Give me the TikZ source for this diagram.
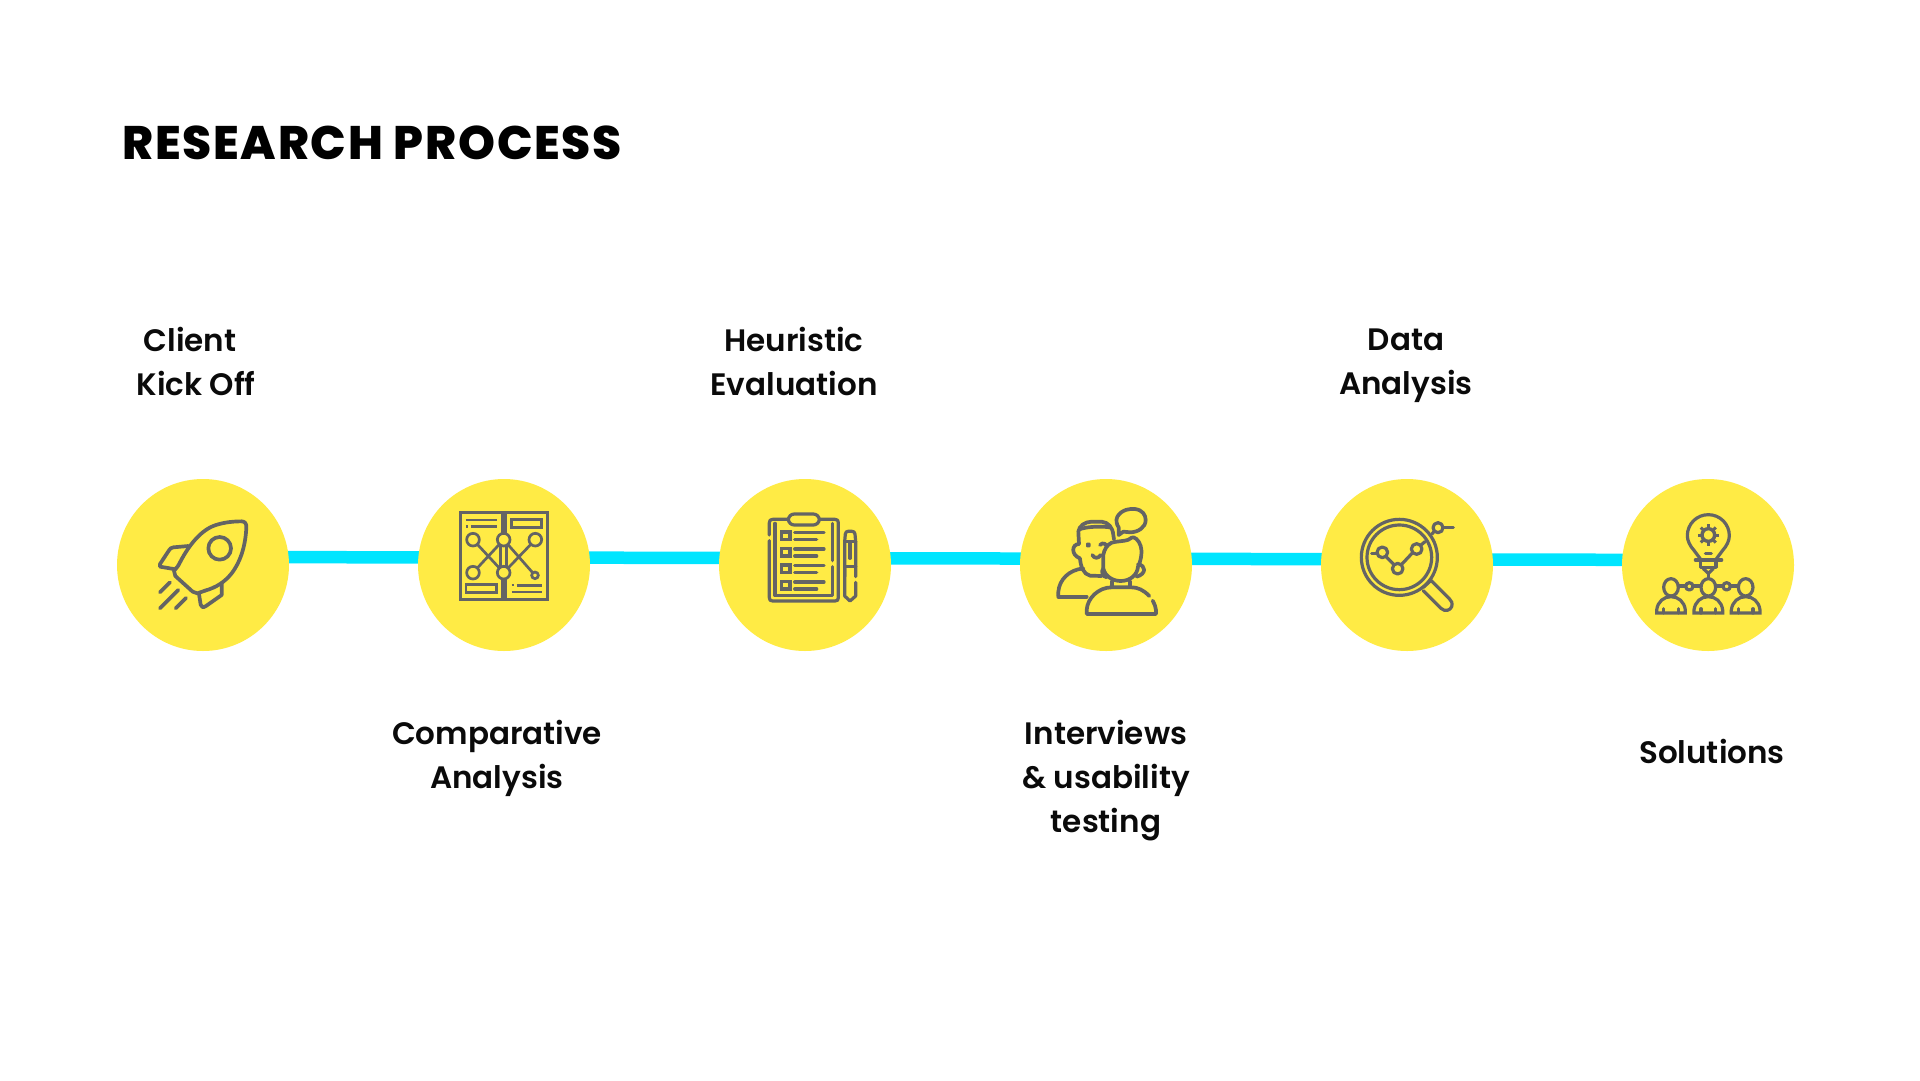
\documentclass[tikz,border=0pt]{standalone}
\usepackage{fontspec}
\usetikzlibrary{backgrounds}
\setmainfont{Poppins}[UprightFont=* SemiBold,BoldFont=* SemiBold,Ligatures=NoCommon]
\newfontfamily\titlefont{Poppins}[UprightFont=* ExtraBold,LetterSpace=3.7]
\newcommand\lstrut{\rule[-11pt]{0pt}{33pt}}
\definecolor{sun}{HTML}{FFEB45}
\definecolor{wire}{HTML}{00E5FF}
\definecolor{ink}{HTML}{646464}
\definecolor{txt}{HTML}{0A0A0A}
\tikzset{
 stepdisc/.style={circle,fill=sun,minimum size=172pt,inner sep=0pt},
 link/.style={wire,line width=12.5pt},
 lab/.style={font=\fontsize{31}{44}\selectfont,text=txt,align=center,inner sep=0pt},
 icon/.style={draw=ink,line width=3.7pt,line cap=round,line join=round},
 iconf/.style={icon,fill=sun},
 zoomA/.style={shift={(110,470)},x=0.33333pt,y=-0.33333pt},
 zoomB/.style={shift={(710,470)},x=0.33333pt,y=-0.33333pt},
 zoomC/.style={shift={(1310,470)},x=0.33333pt,y=-0.33333pt},
}
\begin{document}
\begin{tikzpicture}[x=1pt,y=-1pt]
\useasboundingbox (0,0) rectangle (1920,1080);
\node[anchor=base west,inner sep=0pt,text=black,font=\titlefont\fontsize{47}{56}\selectfont] (title) at (122,159.5) {RESEARCH PROCESS};

\node[stepdisc] (c1) at (203,565) {};
\node[stepdisc] (c2) at (504,565) {};
\node[stepdisc] (c3) at (805,565) {};
\node[stepdisc] (c4) at (1106,565) {};
\node[stepdisc] (c5) at (1407,565) {};
\node[stepdisc] (c6) at (1708,565) {};
\begin{pgfonlayer}{background}
\draw[link] ([yshift=8pt]c1.center) -- ([yshift=7.5pt]c2.center);
\draw[link] ([yshift=7.5pt]c2.center) -- ([yshift=6.9pt]c3.center);
\draw[link] ([yshift=6.9pt]c3.center) -- ([yshift=6.3pt]c4.center);
\draw[link] ([yshift=6.3pt]c4.center) -- ([yshift=5.7pt]c5.center);
\draw[link] ([yshift=5.7pt]c5.center) -- ([yshift=5pt]c6.center);
\end{pgfonlayer}

\node[lab] (l1) at (196,366.5) {\lstrut Client\hspace*{12pt}\\\lstrut Kick Off};
\node[lab] (l2) at (497,759.5) {\lstrut Comparative\\\lstrut Analysis};
\node[lab] (l3) at (794,366.5) {\lstrut Heuristic\\\lstrut Evaluation};
\node[lab] (l4) at (1106,781.5) {\lstrut Interviews\\\lstrut \& usability\\\lstrut testing};
\node[lab] (l5) at (1406,366.5) {\lstrut Data\\\lstrut Analysis};
\node[lab] (l6) at (1712,756.5) {\lstrut Solutions};

% rocket
\begin{scope}[zoomA]
\draw[icon] (205,287) .. controls (235,225) and (275,178) .. (318,165) .. controls (345,156) and (375,154) .. (395,154) .. controls (405,154) and (410,162) .. (409,172) .. controls (407,220) and (395,270) .. (365,310) .. controls (345,335) and (320,352) .. (285,362);
\draw[icon] (205,287) -- (192,302) -- (196,318) -- (248,365) -- (262,370) -- (285,362);
\draw[icon] (235,228) -- (190,232) .. controls (183,233) and (180,236) .. (177,241) -- (150,282) -- (150,290) -- (197,298);
\draw[icon] (335,340) -- (335,375) -- (288,408) .. controls (280,414) and (273,412) .. (272,404) -- (267,372);
\draw[icon] (329,235) circle (34);
\draw[icon] (150,367) -- (180,337);
\draw[icon] (150,415) -- (205,360);
\draw[icon] (197,415) -- (228,384);
\end{scope}

% map
\begin{scope}[zoomA,icon/.append style={line width=2.7pt,line cap=butt,line join=miter}]
\draw[icon] (1178,200) -- (1178,128) -- (1052,128) -- (1052,388) -- (1178,388) -- (1178,320);
\draw[icon] (1186,200) -- (1186,128) -- (1312,128) -- (1312,388) -- (1186,388) -- (1186,320);
\draw[icon] (1068,150) -- (1160,150);
\draw[icon] (1068,170) -- (1075,170) (1082,170) -- (1160,170);
\draw[icon] (1205,148) rectangle (1295,172);
\draw[icon] (1068,344) rectangle (1160,368);
\draw[icon] (1205,345) -- (1213,345) (1220,347) -- (1297,347);
\draw[icon] (1205,366) -- (1297,366);
\draw[icon] (1172,225) -- (1172,295) (1190,225) -- (1190,295);
\draw[icon] (1089,209) -- (1181,308) (1089,308) -- (1181,209);
\draw[icon] (1181,209) -- (1275,316) (1181,308) -- (1276,209);
\draw[iconf] (1089,209) circle (19);
\draw[iconf] (1181,209) circle (19);
\draw[iconf] (1276,209) circle (19);
\draw[iconf] (1089,308) circle (19);
\draw[iconf] (1181,308) circle (19);
\draw[iconf] (1275,316) circle (10);
\end{scope}

% clipboard
\begin{scope}[zoomB,icon/.append style={line width=3.2pt}]
\draw[icon] (178,195) -- (178,158) .. controls (178,151) and (181,148) .. (188,148) -- (235,148);
\draw[icon] (328,148) -- (375,148) .. controls (382,148) and (385,151) .. (385,158) -- (385,383) .. controls (385,390) and (382,393) .. (375,393) -- (188,393) .. controls (181,393) and (178,390) .. (178,383) -- (178,212);
\draw[icon] (195,160) -- (195,377) -- (367,377) -- (367,290);
\draw[icon] (367,272) -- (367,160);
\draw[icon,rounded corners=6pt] (235,132) rectangle (328,165);
\foreach \yy in {197,247,296,346} {
  \draw[icon,line join=miter] (215,\yy-11) rectangle (240,\yy+11);
  \draw[icon] (254,\yy-10) -- (342,\yy-10);
  \draw[icon] (254,\yy+11) -- (320,\yy+11);
}
\draw[icon] (404,320) -- (404,215) -- (406,192) .. controls (407,186) and (410,184) .. (414,184) -- (426,184) .. controls (431,184) and (434,186) .. (435,192) -- (437,215) -- (437,320);
\draw[icon] (404,215) -- (437,215);
\draw[icon] (420,220) -- (420,265);
\draw[icon] (404,290) -- (437,290);
\draw[icon] (404,290) -- (404,378) -- (420,393) -- (437,378) -- (437,337);
\end{scope}

% people
\begin{scope}[zoomB]
\draw[icon] (1222,140) .. controls (1235,118) and (1262,115) .. (1275,117) .. controls (1298,120) and (1307,135) .. (1307,150) .. controls (1307,172) and (1285,186) .. (1262,187) -- (1240,185) -- (1226,195) -- (1226,172) .. controls (1220,165) and (1217,150) .. (1222,140);
\draw[icon] (1045,378) -- (1045,365) .. controls (1048,330) and (1075,300) .. (1120,295);
\draw[icon] (1045,380) -- (1130,380);
\draw[icon] (1107,222) -- (1105,185) .. controls (1107,168) and (1125,155) .. (1145,155) -- (1175,155) .. controls (1195,157) and (1208,172) .. (1210,195) -- (1212,208);
\draw[icon] (1108,178) .. controls (1130,170) and (1170,168) .. (1200,172);
\draw[icon] (1107,222) .. controls (1085,222) and (1082,255) .. (1110,265);
\draw[icon] (1110,265) .. controls (1112,290) and (1120,312) .. (1140,317) -- (1175,318);
\draw[icon] (1147,255) .. controls (1152,266) and (1166,266) .. (1172,255);
\draw[icon,fill=ink] (1135,225) circle (3);
\draw[icon] (1170,225) .. controls (1178,215) and (1192,222) .. (1192,235);
\draw[iconf] (1180,255) -- (1180,295) .. controls (1185,320) and (1210,333) .. (1232,333) .. controls (1260,333) and (1282,315) .. (1284,290) .. controls (1296,265) and (1296,240) .. (1292,228) .. controls (1287,210) and (1272,198) .. (1265,203) .. controls (1255,215) and (1225,212) .. (1205,218) .. controls (1190,225) and (1182,240) .. (1180,255);
\draw[icon] (1180,295) .. controls (1172,305) and (1178,320) .. (1190,322);
\draw[icon] (1284,283) .. controls (1308,285) and (1310,312) .. (1280,320);
\draw[icon] (1205,335) -- (1205,352) (1260,335) -- (1260,352);
\draw[iconf] (1318,378) .. controls (1300,360) and (1285,352) .. (1262,352) -- (1205,352) .. controls (1165,352) and (1132,385) .. (1130,420) -- (1130,432) -- (1338,432) -- (1338,420) .. controls (1337,410) and (1333,400) .. (1328,392);
\end{scope}

% magnifier
\begin{scope}[zoomC,icon/.append style={line width=3.2pt}]
\draw[icon] (268,262) circle (114);
\draw[icon] (268,262) circle (97);
\draw[icon] (340,362) -- (393,415) .. controls (405,426) and (420,422) .. (425,410) .. controls (428,400) and (425,392) .. (418,386) -- (362,330);
\draw[icon] (340,352) -- (362,332);
\draw[icon] (185,250) -- (200,250);
\draw[icon] (229,261) -- (251,283);
\draw[icon] (275,283) -- (306,250);
\draw[icon] (333,225) -- (345,215);
\draw[icon] (366,192) -- (374,182);
\draw[icon] (400,173) -- (430,173);
\draw[iconf] (217,247) circle (16);
\draw[iconf] (263,296) circle (16);
\draw[iconf] (320,237) circle (16);
\draw[iconf] (384,173) circle (15);
\end{scope}

% bulb and people
\begin{scope}[zoomC,icon/.append style={line width=3.2pt}]
\draw[icon] (1172,268) -- (1152,241) .. controls (1140,228) and (1132,212) .. (1132,197) .. controls (1132,162) and (1160,134) .. (1195,134) .. controls (1230,134) and (1258,162) .. (1258,197) .. controls (1258,212) and (1250,228) .. (1238,241) -- (1218,268);
\draw[icon] (1156,270) -- (1235,270);
\draw[icon] (1172,270) -- (1172,292) -- (1218,292) -- (1218,270);
\draw[icon] (1180,296) -- (1195,310) -- (1210,296);
\draw[icon] (1186,251) -- (1204,251);
\draw[icon] (1195,310) -- (1195,328);
\draw[icon,line width=3.4pt] (1195,195) circle (19);
\foreach \aa in {0,45,...,315} \draw[icon,line width=3pt,line cap=butt] (1195,195) ++(\aa:22) -- ++(\aa:10);
\foreach \xx in {1083,1195,1307} {
  \draw[iconf] (\xx,352) ellipse (22 and 26);
  \draw[icon,line join=miter] (\xx-43,429) -- (\xx-43,420) .. controls (\xx-40,395) and (\xx-22,380) .. (\xx,380) .. controls (\xx+22,380) and (\xx+40,395) .. (\xx+43,420) -- (\xx+43,429) -- cycle;
  \draw[icon] (\xx-22,416) -- (\xx-22,429) (\xx+22,416) -- (\xx+22,429);
}
\draw[icon] (1105,348) -- (1127,348) (1149,348) -- (1173,348) (1217,348) -- (1239,348) (1261,348) -- (1285,348);
\draw[icon] (1138,349) circle (11);
\draw[icon] (1250,349) circle (11);
\end{scope}
\end{tikzpicture}
\end{document}
